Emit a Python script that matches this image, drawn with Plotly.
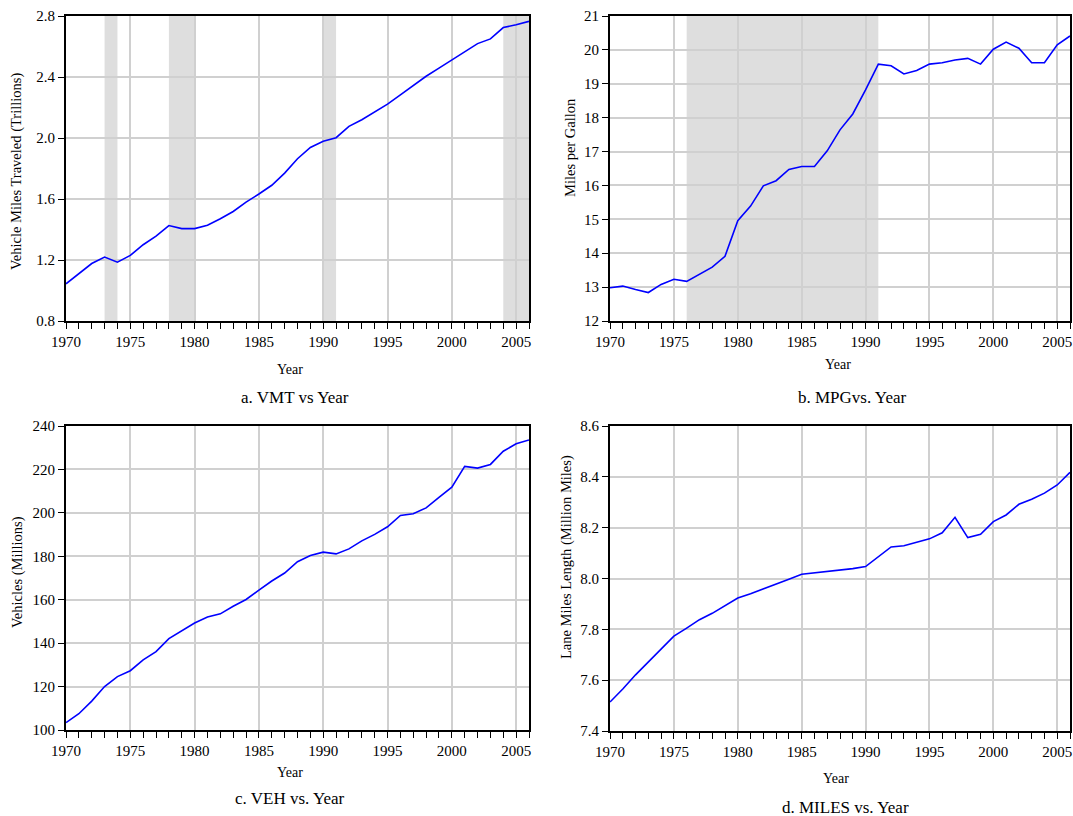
import plotly.graph_objects as go

years = list(range(1970, 2007))

vmt = [1.044, 1.11, 1.177, 1.219, 1.186, 1.23, 1.30, 1.356, 1.426, 1.406,
       1.406, 1.428, 1.47, 1.518, 1.579, 1.633, 1.69, 1.77, 1.864, 1.938,
       1.978, 2.002, 2.076, 2.12, 2.172, 2.222, 2.283, 2.344, 2.405, 2.458,
       2.51, 2.565, 2.619, 2.65, 2.724, 2.743, 2.765]

mpg = [12.98, 13.03, 12.93, 12.84, 13.08, 13.23, 13.17, 13.39, 13.59, 13.91,
       14.96, 15.39, 15.99, 16.14, 16.47, 16.56, 16.56, 17.02, 17.64, 18.11,
       18.82, 19.58, 19.53, 19.29, 19.39, 19.58, 19.62, 19.70, 19.75, 19.58,
       20.02, 20.23, 20.05, 19.62, 19.62, 20.15, 20.41]

veh = [103.4, 107.5, 113.3, 120.0, 124.6, 127.3, 132.3, 136.1, 142.1, 145.9,
       149.3, 152.0, 153.5, 157.0, 160.1, 164.4, 168.6, 172.3, 177.5, 180.4,
       181.9, 181.1, 183.4, 187.1, 190.1, 193.6, 198.8, 199.6, 202.3, 207.1,
       211.8, 221.4, 220.6, 222.3, 228.4, 231.8, 233.6]

miles = [7.514, 7.565, 7.621, 7.671, 7.723, 7.773, 7.805, 7.838, 7.863, 7.892,
         7.923, 7.940, 7.958, 7.976, 7.997, 8.017, 8.022, 8.027, 8.032, 8.039,
         8.047, 8.086, 8.124, 8.129, 8.142, 8.156, 8.180, 8.241, 8.161, 8.174,
         8.224, 8.250, 8.292, 8.312, 8.336, 8.368, 8.418]

shade_a = [(1973, 1974), (1978, 1980), (1990, 1991), (2004, 2006)]
shade_b = [(1976, 1991)]

y_titles = ["Vehicle Miles Traveled (Trillions)", "Miles per Gallon",
            "Vehicles (Millions)", "Lane Miles Length (Million Miles)"]
captions = ["a. VMT vs Year", "b. MPGvs. Year", "c. VEH vs. Year", "d. MILES vs. Year"]
y_ranges = [(0.8, 2.8), (12, 21), (100, 240), (7.4, 8.6)]
y_dticks = [0.4, 1, 20, 0.2]
y_formats = [".1f", "d", "d", ".1f"]

W, H = 1073, 816
FONT = "Liberation Serif, Times New Roman, serif"

# plot-area pixel boxes (left, right, top, bottom)
boxes = [(66, 529, 16, 321), (610, 1070, 16, 321), (66, 529, 426, 730), (610, 1070, 426, 731)]
year_lbl = [(290, 370), (838, 364), (290, 772), (836, 778)]
cap_pos = [(295, 397), (852, 397), (290, 798), (845, 807)]
ytitle_pos = [(16, 172), (570, 148), (17, 572), (566, 557)]

series = [vmt, mpg, veh, miles]

fig = go.Figure()
layout = dict(template="none", width=W, height=H,
              margin=dict(l=0, r=0, t=0, b=0, autoexpand=False),
              paper_bgcolor="white", plot_bgcolor="white", showlegend=False,
              font=dict(family=FONT, color="black", size=14))
annotations = []
shapes = []

for i in range(4):
    n = "" if i == 0 else str(i + 1)
    l, r, t, b = boxes[i]
    fig.add_trace(go.Scatter(x=years, y=series[i], mode="lines",
                             line=dict(color="#0000ff", width=1.6),
                             xaxis="x" + n, yaxis="y" + n))
    layout["xaxis" + n] = dict(
        domain=[l / W, r / W], anchor="y" + n, range=[1970, 2006], automargin=False,
        tick0=1970, dtick=5, ticks="outside", ticklen=6, tickwidth=1,
        tickcolor="black", showline=True, linecolor="black", linewidth=2,
        mirror=True, showgrid=True, gridcolor="#d0d0d0", gridwidth=1.5,
        zeroline=False, tickfont=dict(family=FONT, size=15),
        minor=dict(dtick=1, tick0=1970, ticks="outside", ticklen=6,
                   tickcolor="black", showgrid=False))
    y0, y1 = y_ranges[i]
    layout["yaxis" + n] = dict(
        domain=[1 - b / H, 1 - t / H], anchor="x" + n, range=[y0, y1], automargin=False,
        tick0=y0, dtick=y_dticks[i], tickformat=y_formats[i],
        ticks="outside", ticklen=6, tickcolor="black",
        showline=True, linecolor="black", linewidth=2, mirror=True,
        showgrid=True, gridcolor="#d0d0d0", gridwidth=1.5, zeroline=False,
        tickfont=dict(family=FONT, size=15))
    annotations.append(dict(text="Year", x=year_lbl[i][0] / W, y=1 - year_lbl[i][1] / H,
                            xref="paper", yref="paper", showarrow=False,
                            xanchor="center", yanchor="middle",
                            font=dict(family=FONT, size=14)))
    annotations.append(dict(text=captions[i], x=cap_pos[i][0] / W, y=1 - cap_pos[i][1] / H,
                            xref="paper", yref="paper", showarrow=False,
                            xanchor="center", yanchor="middle",
                            font=dict(family=FONT, size=17)))
    annotations.append(dict(text=y_titles[i], x=ytitle_pos[i][0] / W, y=1 - ytitle_pos[i][1] / H,
                            xref="paper", yref="paper", showarrow=False, textangle=-90,
                            xanchor="center", yanchor="middle",
                            font=dict(family=FONT, size=14.5)))

for idx, regions in ((0, shade_a), (1, shade_b)):
    n = "" if idx == 0 else str(idx + 1)
    for a, bb in regions:
        shapes.append(dict(type="rect", xref="x" + n, yref="y" + n + " domain",
                           x0=a, x1=bb, y0=0, y1=1, fillcolor="#dedede",
                           line=dict(width=0), layer="below"))

layout["annotations"] = annotations
layout["shapes"] = shapes
fig.update_layout(**layout)
fig.write_html("out.html")
